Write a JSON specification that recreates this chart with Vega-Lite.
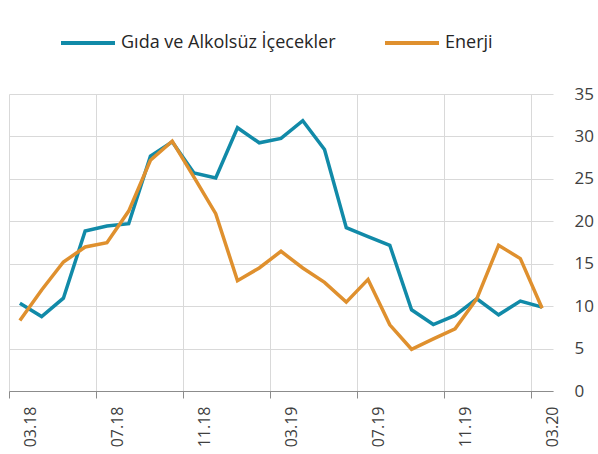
{
  "$schema": "https://vega.github.io/schema/vega-lite/v6.json",
  "autosize": "none",
  "width": 544,
  "height": 297,
  "padding": {"left": 9, "top": 94, "right": 45, "bottom": 63},
  "background": "white",
  "config": {
    "font": "Open Sans",
    "view": {"stroke": null}
  },
  "data": {
    "values": [
      {"month": "03.18", "series": "Gıda ve Alkolsüz İçecekler", "value": 10.35},
      {"month": "04.18", "series": "Gıda ve Alkolsüz İçecekler", "value": 8.78},
      {"month": "05.18", "series": "Gıda ve Alkolsüz İçecekler", "value": 10.94},
      {"month": "06.18", "series": "Gıda ve Alkolsüz İçecekler", "value": 18.86},
      {"month": "07.18", "series": "Gıda ve Alkolsüz İçecekler", "value": 19.45},
      {"month": "08.18", "series": "Gıda ve Alkolsüz İçecekler", "value": 19.72},
      {"month": "09.18", "series": "Gıda ve Alkolsüz İçecekler", "value": 27.68},
      {"month": "10.18", "series": "Gıda ve Alkolsüz İçecekler", "value": 29.37},
      {"month": "11.18", "series": "Gıda ve Alkolsüz İçecekler", "value": 25.7},
      {"month": "12.18", "series": "Gıda ve Alkolsüz İçecekler", "value": 25.1},
      {"month": "01.19", "series": "Gıda ve Alkolsüz İçecekler", "value": 31.02},
      {"month": "02.19", "series": "Gıda ve Alkolsüz İçecekler", "value": 29.25},
      {"month": "03.19", "series": "Gıda ve Alkolsüz İçecekler", "value": 29.76},
      {"month": "04.19", "series": "Gıda ve Alkolsüz İçecekler", "value": 31.85},
      {"month": "05.19", "series": "Gıda ve Alkolsüz İçecekler", "value": 28.46},
      {"month": "06.19", "series": "Gıda ve Alkolsüz İçecekler", "value": 19.25},
      {"month": "07.19", "series": "Gıda ve Alkolsüz İçecekler", "value": 18.2},
      {"month": "08.19", "series": "Gıda ve Alkolsüz İçecekler", "value": 17.17},
      {"month": "09.19", "series": "Gıda ve Alkolsüz İçecekler", "value": 9.57},
      {"month": "10.19", "series": "Gıda ve Alkolsüz İçecekler", "value": 7.83},
      {"month": "11.19", "series": "Gıda ve Alkolsüz İçecekler", "value": 8.9},
      {"month": "12.19", "series": "Gıda ve Alkolsüz İçecekler", "value": 10.87},
      {"month": "01.20", "series": "Gıda ve Alkolsüz İçecekler", "value": 8.98},
      {"month": "02.20", "series": "Gıda ve Alkolsüz İçecekler", "value": 10.59},
      {"month": "03.20", "series": "Gıda ve Alkolsüz İçecekler", "value": 9.88},
      {"month": "03.18", "series": "Enerji", "value": 8.3},
      {"month": "04.18", "series": "Enerji", "value": 11.9},
      {"month": "05.18", "series": "Enerji", "value": 15.2},
      {"month": "06.18", "series": "Enerji", "value": 16.97},
      {"month": "07.18", "series": "Enerji", "value": 17.48},
      {"month": "08.18", "series": "Enerji", "value": 21.2},
      {"month": "09.18", "series": "Enerji", "value": 27.2},
      {"month": "10.18", "series": "Enerji", "value": 29.45},
      {"month": "11.18", "series": "Enerji", "value": 25.2},
      {"month": "12.18", "series": "Enerji", "value": 20.9},
      {"month": "01.19", "series": "Enerji", "value": 13.0},
      {"month": "02.19", "series": "Enerji", "value": 14.5},
      {"month": "03.19", "series": "Enerji", "value": 16.46},
      {"month": "04.19", "series": "Enerji", "value": 14.5},
      {"month": "05.19", "series": "Enerji", "value": 12.8},
      {"month": "06.19", "series": "Enerji", "value": 10.47},
      {"month": "07.19", "series": "Enerji", "value": 13.15},
      {"month": "08.19", "series": "Enerji", "value": 7.8},
      {"month": "09.19", "series": "Enerji", "value": 4.92},
      {"month": "10.19", "series": "Enerji", "value": 6.14},
      {"month": "11.19", "series": "Enerji", "value": 7.32},
      {"month": "12.19", "series": "Enerji", "value": 10.87},
      {"month": "01.20", "series": "Enerji", "value": 17.17},
      {"month": "02.20", "series": "Enerji", "value": 15.6},
      {"month": "03.20", "series": "Enerji", "value": 9.76}
    ]
  },
  "mark": {"type": "line", "strokeWidth": 3.5, "strokeJoin": "miter", "strokeCap": "butt"},
  "encoding": {
    "x": {
      "field": "month",
      "type": "ordinal",
      "sort": null,
      "bandPosition": 0.5,
      "scale": {"type": "band", "paddingInner": 0, "paddingOuter": 0},
      "axis": {
        "title": null,
        "values": ["03.18", "07.18", "11.18", "03.19", "07.19", "11.19", "03.20"],
        "bandPosition": 0,
        "labelOffset": 11,
        "labelAngle": -90,
        "labelFontSize": 16,
        "labelColor": "#404040",
        "labelPadding": 8,
        "grid": true,
        "gridColor": "#d9d9d9",
        "gridWidth": 1,
        "domainColor": "#8c8c8c",
        "domainWidth": 1,
        "tickColor": "#8c8c8c",
        "tickSize": 7
      }
    },
    "y": {
      "field": "value",
      "type": "quantitative",
      "scale": {"domain": [0, 35], "nice": false},
      "axis": {
        "title": null,
        "orient": "right",
        "values": [0, 5, 10, 15, 20, 25, 30, 35],
        "domain": false,
        "ticks": false,
        "grid": true,
        "gridColor": "#d9d9d9",
        "gridWidth": 1,
        "labelFontSize": 17,
        "labelColor": "#404040",
        "labelPadding": 21
      }
    },
    "color": {
      "field": "series",
      "type": "nominal",
      "scale": {"domain": ["Gıda ve Alkolsüz İçecekler", "Enerji"], "range": ["#118aa8", "#df902e"]},
      "legend": {
        "title": null,
        "orient": "none",
        "legendX": 50,
        "legendY": -80,
        "direction": "horizontal",
        "columns": 2,
        "columnPadding": 41,
        "symbolType": "stroke",
        "symbolSize": 2916,
        "symbolStrokeWidth": 4,
        "labelFontSize": 18,
        "labelLimit": 0,
        "labelColor": "#262626",
        "labelOffset": 4
      }
    }
  }
}
